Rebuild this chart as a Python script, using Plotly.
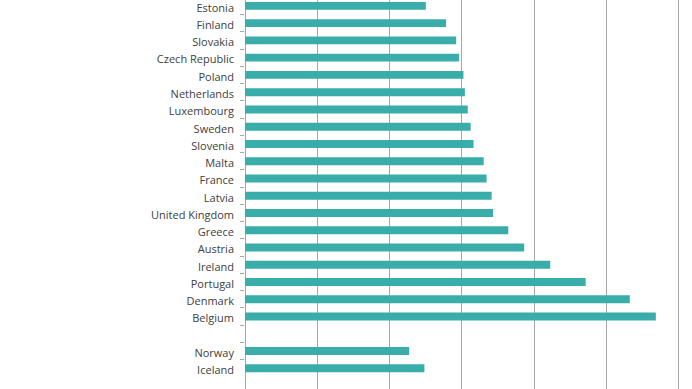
import plotly.graph_objects as go

countries = ["Estonia", "Finland", "Slovakia", "Czech Republic", "Poland", "Netherlands",
             "Luxembourg", "Sweden", "Slovenia", "Malta", "France", "Latvia",
             "United Kingdom", "Greece", "Austria", "Ireland", "Portugal", "Denmark",
             "Belgium", " ", "Norway", "Iceland"]
values = [12.5, 13.9, 14.6, 14.8, 15.1, 15.2, 15.4, 15.6, 15.8, 16.5, 16.7, 17.05,
          17.15, 18.2, 19.3, 21.1, 23.55, 26.6, 28.4, None, 11.35, 12.4]

fig = go.Figure(go.Bar(
    y=countries, x=values, orientation="h",
    marker=dict(color="#38ADAA", line=dict(width=0)),
))

fig.update_layout(
    width=692, height=389,
    margin=dict(l=245, r=0, t=0, b=0, pad=0),
    paper_bgcolor="white", plot_bgcolor="white",
    bargap=0.54,
    showlegend=False,
    font=dict(family="Open Sans", size=11, color="#404040"),
)
fig.update_xaxes(
    range=[0, 30.9], dtick=5, showgrid=True, gridcolor="#A6A6A6", gridwidth=1,
    showticklabels=False, zeroline=True, zerolinecolor="#A6A6A6", zerolinewidth=1,
    showline=False, automargin=False,
)
fig.update_yaxes(
    type="category", categoryorder="array", categoryarray=countries,
    range=[22.2, -0.34], tickson="boundaries", ticks="outside", ticklen=4,
    tickcolor="#A6A6A6", showgrid=False, showline=False, ticklabelstandoff=10,
    ticklabelshift=-2,
    tickfont=dict(size=11, color="#404040"), automargin=False,
)

fig.write_html(
    "out.html",
    config={"displayModeBar": False},
    post_script="document.body.style.margin='0';document.body.style.overflow='hidden';",
)
